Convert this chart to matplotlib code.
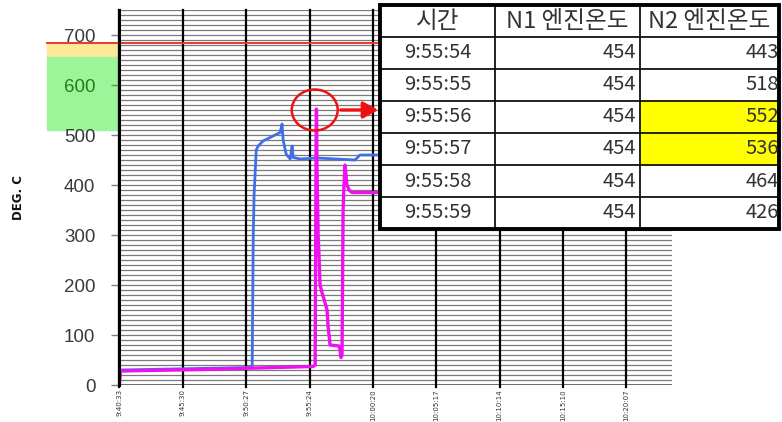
import matplotlib
matplotlib.use("Agg")
import matplotlib.pyplot as plt
from matplotlib.patches import Rectangle, Ellipse, FancyArrowPatch
import numpy as np

# --- data ---
start_time = "9:40:33"
tick_labels = ["9:40:33", "9:45:30", "9:50:27", "9:55:24", "10:00:20",
               "10:05:17", "10:10:14", "10:15:10", "10:20:07"]
x_end = "10:23:42"

n1_times = ["9:40:33", "9:50:46", "9:50:55", "9:51:00", "9:51:04", "9:51:14",
            "9:51:23", "9:51:46", "9:52:19", "9:53:06", "9:53:15", "9:53:20",
            "9:53:34", "9:53:53", "9:54:02", "9:54:07", "9:54:40", "9:55:54",
            "9:55:59", "9:58:57", "9:59:20", "10:04:01"]
n1_vals = [30, 35, 36, 300, 380, 470, 478, 488, 495, 505, 522, 490,
           462, 452, 478, 455, 452, 454, 454, 450, 460, 460]

n2_times = ["9:40:33", "9:40:38", "9:46:52", "9:55:40", "9:55:50", "9:55:54",
            "9:55:55", "9:55:56", "9:55:57", "9:55:58", "9:55:59", "9:56:04",
            "9:56:08", "9:56:13", "9:56:22", "9:56:36", "9:56:46", "9:56:50",
            "9:57:00", "9:57:42", "9:57:47", "9:57:51", "9:57:56", "9:58:01",
            "9:58:05", "9:58:10", "9:58:19", "9:58:29", "9:58:43", "10:00:54",
            "10:04:01"]
n2_vals = [0, 28, 31, 37, 40, 443, 518, 552, 536, 464, 426, 300,
           260, 200, 185, 165, 150, 120, 80, 78, 70, 55, 60, 350,
           400, 440, 400, 390, 385, 385, 385]

limit_red = 685
band_yellow = (657, 685)
band_green = (510, 657)

table_header = ["시간", "N1 엔진온도", "N2 엔진온도"]
table_times = ["9:55:54", "9:55:55", "9:55:56", "9:55:57", "9:55:58", "9:55:59"]
table_n1 = [454, 454, 454, 454, 454, 454]
table_n2 = [443, 518, 552, 536, 464, 426]
table_marked = [False, False, True, True, False, False]


def to_sec(t):
    h, m, s = map(int, t.split(":"))
    return h * 3600 + m * 60 + s


t0 = to_sec(start_time)
n1_x = np.array([to_sec(t) - t0 for t in n1_times])
n2_x = np.array([to_sec(t) - t0 for t in n2_times])
tick_x = [to_sec(t) - t0 for t in tick_labels]

W, H = 782, 422
narrow = ["Liberation Sans Narrow", "DejaVu Sans Condensed", "DejaVu Sans"]


def fx(px):
    return px / W


def fy(py):
    return (H - py) / H


fig = plt.figure(figsize=(W / 100, H / 100), dpi=100)
ax = fig.add_axes([119 / W, (H - 385) / H, (672 - 119) / W, 375 / H])

ax.set_xlim(-2, to_sec(x_end) - t0)
ax.set_ylim(0, 750)

# horizontal grid every 10 units
for v in range(10, 751, 10):
    ax.axhline(v, color="#7a7a7a", lw=0.9, zorder=1)
ax.axhline(0, color="#505050", lw=1.2, zorder=1)
for tx in tick_x:
    ax.axvline(tx, color="black", lw=1.6, ymin=-0.006, clip_on=False, zorder=2)

ax.plot(n1_x, n1_vals, color="#3f6fe6", lw=2, zorder=4)
ax.plot(n2_x, n2_vals, color="#ee10ee", lw=2.4, zorder=5)

for s in ["top", "right", "bottom"]:
    ax.spines[s].set_visible(False)
ax.spines["left"].set_linewidth(2.2)
ax.spines["left"].set_zorder(6)

ax.set_yticks(range(0, 701, 100))
ax.tick_params(axis="y", length=6, width=1, color="#808080", pad=11,
               labelsize=13.5, labelcolor="#3a3a3a")
for lab in ax.get_yticklabels():
    lab.set_fontfamily("Liberation Sans")
    if lab.get_text() == "600":
        lab.set_color("#1f7f1f")

ax.set_xticks(tick_x)
ax.set_xticklabels(tick_labels, rotation=90, fontsize=5, family=narrow,
                   color="#333333")
ax.tick_params(axis="x", length=0, pad=3)

fig.text(fx(19), fy(198), "DEG. C", rotation=90, ha="center", va="center",
         fontsize=8.5, fontweight="bold", family=narrow, color="#111111")

# coloured bands left of the axis and red limit line
ytr = ax.get_yaxis_transform()
band_left = (47 - 119) / 553
ax.add_patch(Rectangle((band_left, band_yellow[0]), -band_left, band_yellow[1] - band_yellow[0],
                       transform=ytr, color="#fde89a", clip_on=False, zorder=0))
ax.add_patch(Rectangle((band_left, band_green[0]), -band_left, band_green[1] - band_green[0],
                       transform=ytr, color="#9df59a", clip_on=False, zorder=0))
ax.plot([band_left, (380 - 119) / 553], [limit_red, limit_red], transform=ytr,
        color="#e8392e", lw=1.4, clip_on=False, zorder=3)

# red circle around the spike + arrow to the table
spike_i = int(np.argmax(n2_vals))
ax.add_patch(Ellipse((n2_x[spike_i] - 8, 550), 46 * 4.68, 82, fill=False,
                     edgecolor="#ee1111", lw=1.8, zorder=7))
fig.add_artist(FancyArrowPatch(
    (fx(338), fy(110)), (fx(381), fy(110)), transform=fig.transFigure,
    arrowstyle="-|>,head_length=9,head_width=5", mutation_scale=1,
    color="#ee1111", lw=2.4, zorder=10))

# table drawn on top
col_edges = [380, 495, 640, 779]
row_edges = [5, 37, 69, 101, 133, 165, 197, 229]
tf = fig.transFigure
fig.add_artist(Rectangle((fx(380), fy(229)), fx(399), (229 - 5) / H, transform=tf,
                         facecolor="white", edgecolor="none", zorder=20))
for i, mark in enumerate(table_marked):
    if mark:
        y0, y1 = row_edges[i + 1], row_edges[i + 2]
        fig.add_artist(Rectangle((fx(640), fy(y1)), fx(779 - 640), (y1 - y0) / H,
                                 transform=tf, facecolor="#ffff00",
                                 edgecolor="none", zorder=21))
for yy in row_edges[1:-1]:
    fig.add_artist(plt.Line2D([fx(380), fx(779)], [fy(yy), fy(yy)], transform=tf,
                              color="#111111", lw=1.3, zorder=22))
for xx in col_edges[1:-1]:
    fig.add_artist(plt.Line2D([fx(xx), fx(xx)], [fy(5), fy(229)], transform=tf,
                              color="#111111", lw=1.3, zorder=22))
fig.add_artist(Rectangle((fx(380), fy(229)), fx(399), (229 - 5) / H, transform=tf,
                         facecolor="none", edgecolor="black", lw=2.8, zorder=23))

tfont = dict(family=["Noto Sans CJK KR", "DejaVu Sans"], color="#333333",
             zorder=24, transform=tf, va="center")
centers = [(col_edges[i] + col_edges[i + 1]) / 2 for i in range(3)]
for c, h in zip(centers, table_header):
    fig.text(fx(c), fy(21), h, ha="center", fontsize=17, **tfont)
for i in range(len(table_times)):
    yc = (row_edges[i + 1] + row_edges[i + 2]) / 2
    fig.text(fx(centers[0]), fy(yc), table_times[i], ha="center", fontsize=14.5, **tfont)
    fig.text(fx(636), fy(yc), str(table_n1[i]), ha="right", fontsize=14.5, **tfont)
    fig.text(fx(779), fy(yc), str(table_n2[i]), ha="right", fontsize=14.5, **tfont)

fig.savefig("out.png", dpi=100)
